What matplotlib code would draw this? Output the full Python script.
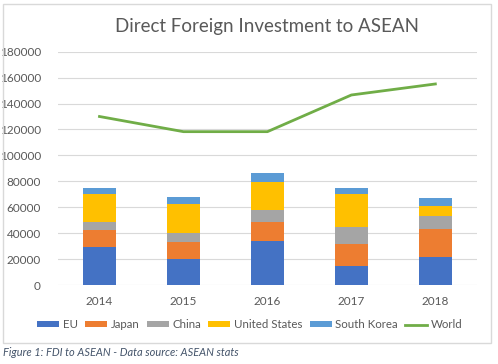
import numpy as np
import matplotlib.pyplot as plt
from matplotlib.patches import Rectangle

years = ['2014', '2015', '2016', '2017', '2018']
eu = [29100, 19800, 34000, 14700, 21800]
japan = [13300, 13600, 14400, 16900, 21200]
china = [6400, 6500, 9500, 13400, 10200]
united_states = [21400, 22400, 21300, 25200, 7800]
south_korea = [4800, 5800, 7000, 4400, 6400]
world = [130000, 118300, 118300, 146600, 155100]

series = [('EU', eu, '#4472C4'), ('Japan', japan, '#ED7D31'), ('China', china, '#A5A5A5'),
          ('United States', united_states, '#FFC000'), ('South Korea', south_korea, '#5B9BD5')]

plt.rcParams['font.family'] = ['Lato', 'DejaVu Sans']

fig = plt.figure(figsize=(4.98, 3.64), dpi=100)
ax = fig.add_axes([0.1155, 0.217, 0.843, 0.641])

x = np.arange(len(years))
bottom = np.zeros(len(years))
for name, vals, col in series:
    ax.bar(x, vals, 0.4, bottom=bottom, color=col, label=name, zorder=2)
    bottom += np.array(vals)
ax.plot(x, world, color='#70AD47', lw=2, label='World', zorder=3)

ax.set_xlim(-0.5, 4.5)
ax.set_ylim(0, 180000)
ax.set_yticks(np.arange(0, 180001, 20000))
ax.set_xticks(x)
ax.set_xticklabels(years)
ax.grid(axis='y', color='#D9D9D9', lw=0.8, zorder=0)
for s in ax.spines.values():
    s.set_visible(False)
ax.tick_params(length=0, labelsize=8.5, labelcolor='#595959')
ax.tick_params(axis='y', pad=12)
ax.tick_params(axis='x', pad=8)

ax.set_title('Direct Foreign Investment to ASEAN', fontsize=13.5, color='#595959', pad=14)

h, l = ax.get_legend_handles_labels()
order = [1, 2, 3, 4, 5, 0]
ax.legend([h[i] for i in order], [l[i] for i in order], loc='center',
          bbox_to_anchor=(0.458, -0.17), ncol=6, frameon=False,
          fontsize=8.3, labelcolor='#595959', handlelength=1.9, handleheight=0.45,
          columnspacing=0.65, handletextpad=0.3, borderpad=0)

# chart border
fig.patches.append(Rectangle((0.006, 0.058), 0.98, 0.93, transform=fig.transFigure,
                             fill=False, edgecolor='#D9D9D9', lw=1))
fig.text(0.006, 0.031, 'Figure 1: FDI to ASEAN - Data source: ASEAN stats', fontsize=7.9,
         style='italic', color='#44546A', va='center')

fig.savefig('out.png', dpi=100)
